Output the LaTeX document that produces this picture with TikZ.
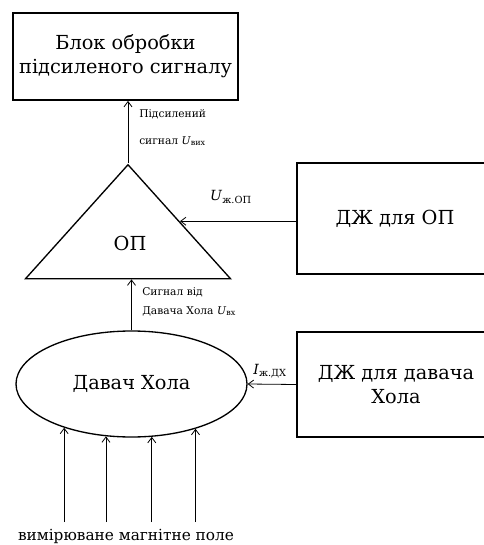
\documentclass[tikz,border=0pt]{standalone}
\usepackage{fontspec}
\setmainfont{DejaVu Serif}
\usetikzlibrary{arrows.meta,positioning,shapes.geometric}

\begin{document}
\begin{tikzpicture}[x=0.75pt, y=-0.75pt, >={Straight Barb[length=4pt,width=6pt]},
  box/.style={draw, line width=1.3pt, align=center, inner sep=0pt, font=\fontsize{14.5}{18}\selectfont},
  wire/.style={->, line width=0.6pt},
  lbl/.style={font=\fontsize{8}{14}\selectfont, align=left, inner sep=0pt, anchor=west}]
\useasboundingbox (0,0) rectangle (483,545);

% blocks
\node[box, minimum width=168.75pt, minimum height=65.25pt] (blok) at (125.5,56.5) {Блок обробки\\підсиленого сигналу};
\node[draw, line width=1pt, isosceles triangle, isosceles triangle stretches, shape border rotate=90,
  minimum width=153.75pt, minimum height=85.5pt, inner sep=0pt, anchor=apex] (op) at (128,163) {};
\node[font=\fontsize{14.5}{18}\selectfont] (optxt) at (130,243) {ОП};
\node[box, minimum width=147pt, minimum height=83.25pt] (dzop) at (395,218.5) {ДЖ для ОП};
\node[box, ellipse, line width=1pt, minimum width=173.25pt, minimum height=79.5pt] (hall) at (131.5,384) {Давач Хола};
\node[box, minimum width=148.5pt, minimum height=78.75pt] (dzdx) at (396,384.5) {ДЖ для давача\\Хола};

% connectors
\draw[wire] (op.apex) -- (op.apex |- blok.south);
\draw[wire] (dzop.west |- op.right side) -- (op.right side);
\draw[wire] (hall.north) -- (hall.north |- op.lower side);
\draw[wire] (dzdx.west) -- (hall.east);
\coordinate (fb) at (0,522);
\foreach \a in {213,244,291,325}
  \draw[wire] (hall.\a |- fb) -- (hall.\a);

% labels
\node[lbl] (lvih) at (139,128) {Підсилений\\[6pt]сигнал \textit{U}\textsubscript{вих}};
\node[lbl] (lvh) at (142,302) {Сигнал від\\Давача Хола \textit{U}\textsubscript{вх}};
\node[font=\fontsize{10.5}{14}\selectfont] (luop) at (231,197) {\textit{U}\textsubscript{ж.ОП}};
\node[font=\fontsize{10.5}{14}\selectfont] (lidx) at (270,371) {\textit{I}\textsubscript{ж.ДХ}};
\node[font=\fontsize{11.5}{16}\selectfont] (pole) at (126,536) {вимірюване магнітне поле};
\end{tikzpicture}
\end{document}
